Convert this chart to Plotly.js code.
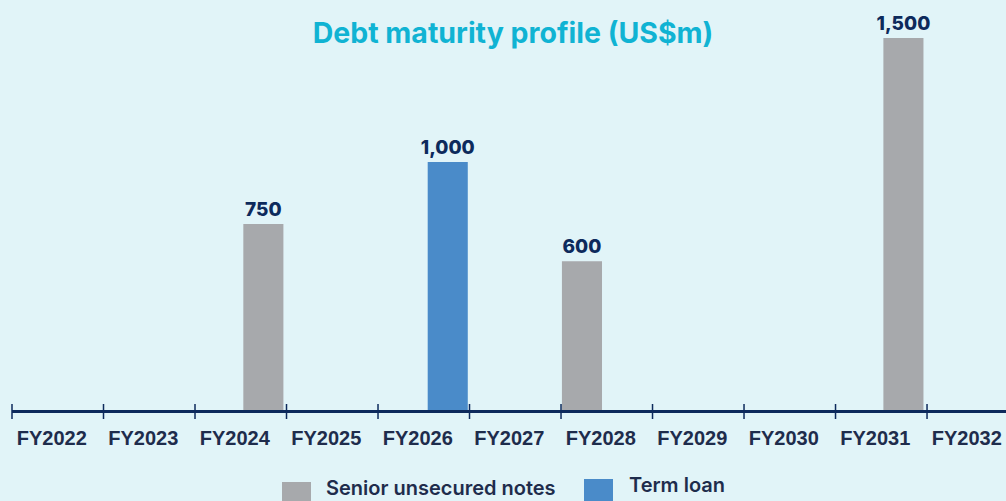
<!DOCTYPE html>
<html>
<head>
<meta charset="utf-8">
<script src="https://cdn.plot.ly/plotly-3.0.1.min.js"></script>
<style>html,body{margin:0;padding:0;background:#e1f4f8;}#chart{width:1006px;height:501px;}</style>
</head>
<body>
<div id="chart"></div>
<script>
var categories = ['FY2022','FY2023','FY2024','FY2025','FY2026','FY2027','FY2028','FY2029','FY2030','FY2031','FY2032'];
var seniorYears = ['FY2024','FY2028','FY2031'];
var seniorValues = [750, 600, 1500];
var termYears = ['FY2026'];
var termValues = [1000];
var seriesNames = ['Senior unsecured notes', 'Term loan'];
var seriesColors = ['#a7a9ac', '#4a8bc9'];

var navy = '#0d2a5c';
var labelColor = '#1e2c4c';
var range = [-0.5, 10.363];
var ml = 12, plotW = 994, plotH = 380, plotBottom = 410;

function px2x(p){ return (p - ml) / plotW; }
function px2y(p){ return (plotBottom - p) / plotH; }

var valueFont = {family:'Inter', size:19, color:navy, weight:800};

var traces = [
  {type:'bar', name:seriesNames[0], x:seniorYears, y:seniorValues,
   marker:{color:seriesColors[0]}, width:0.438, offset:[0.028,-0.49,0.023],
   texttemplate:'%{y:,}', textposition:'outside', cliponaxis:false, constraintext:'none',
   textfont:valueFont, hoverinfo:'none'},
  {type:'bar', name:seriesNames[1], x:termYears, y:termValues,
   marker:{color:seriesColors[1]}, width:0.438, offset:0.043,
   texttemplate:'%{y:,}', textposition:'outside', cliponaxis:false, constraintext:'none',
   textfont:valueFont, hoverinfo:'none'}
];

var shapes = [];
for (var i = 0; i <= categories.length; i++) {
  var xb = (i - 0.5 - range[0]) / (range[1] - range[0]);
  shapes.push({type:'line', xref:'paper', yref:'paper', x0:xb, x1:xb,
    y0:px2y(419), y1:px2y(404), line:{color:navy, width:1.5}});
}
// legend squares
shapes.push({type:'rect', xref:'paper', yref:'paper', x0:px2x(282), x1:px2x(311), y0:px2y(511), y1:px2y(482), fillcolor:seriesColors[0], line:{width:0}});
shapes.push({type:'rect', xref:'paper', yref:'paper', x0:px2x(584), x1:px2x(613), y0:px2y(508), y1:px2y(479), fillcolor:seriesColors[1], line:{width:0}});

var legendFont = {family:'Inter', size:20, color:labelColor, weight:600};
var annotations = [
  {xref:'paper', yref:'paper', x:px2x(325), y:px2y(501), xanchor:'left', yanchor:'bottom', showarrow:false,
   text:seriesNames[0], font:legendFont, borderpad:0},
  {xref:'paper', yref:'paper', x:px2x(628), y:px2y(498), xanchor:'left', yanchor:'bottom', showarrow:false,
   text:seriesNames[1], font:legendFont, borderpad:0}
];

var layout = {
  width:1006, height:501,
  paper_bgcolor:'#e1f4f8', plot_bgcolor:'#e1f4f8',
  margin:{l:ml, r:0, t:plotBottom - plotH, b:501-plotBottom, pad:0},
  title:{text:'<b>Debt maturity profile (US$m)</b>', font:{family:'Inter', size:28.5, color:'#10b3d3'},
    x:px2x(513), xref:'paper', xanchor:'center', y:1-33.5/501, yref:'container', yanchor:'middle'},
  showlegend:false,
  barmode:'overlay',
  xaxis:{type:'category', categoryorder:'array', categoryarray:categories, tickvals:categories, range:range,
    showline:true, linecolor:navy, linewidth:3, ticks:'', showgrid:false, zeroline:false,
    tickfont:{family:'Liberation Sans', size:20, color:labelColor, weight:700},
    ticklabelshift:-6, ticklabelstandoff:8, fixedrange:true},
  yaxis:{range:[0,1532], visible:false, showgrid:false, zeroline:false, fixedrange:true},
  shapes:shapes,
  annotations:annotations
};

Plotly.newPlot('chart', traces, layout, {displayModeBar:false, staticPlot:true});
</script>
</body>
</html>
